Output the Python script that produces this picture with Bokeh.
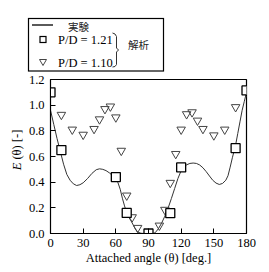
from bokeh.plotting import figure
from bokeh.models import Range1d, FixedTicker, Div
from bokeh.layouts import column, row
from bokeh.embed import file_html
from bokeh.resources import INLINE

# ---- data ----
curve_x = [0, 3, 6, 9, 12, 15, 18, 21, 24, 27, 30, 34, 38, 42, 45, 48, 51, 54, 57, 60,
           62, 64, 66, 68, 70, 72, 74, 76, 78, 80, 83, 86, 90, 94, 96, 99, 102, 105, 108,
           111, 114, 117, 120, 122, 125, 128, 131, 134, 137, 140, 143, 146, 149, 152, 155,
           158, 161, 163, 165, 167, 170, 172, 174, 176, 178, 180]
curve_y = [0.96, 0.85, 0.74, 0.64, 0.54, 0.46, 0.415, 0.387, 0.374, 0.38, 0.395, 0.428, 0.468,
           0.497, 0.504, 0.500, 0.490, 0.473, 0.452, 0.425, 0.395, 0.345, 0.275, 0.215, 0.16,
           0.125, 0.098, 0.066, 0.035, 0.012, 0.002, 0.0, 0.0, 0.0, 0.005, 0.036, 0.080,
           0.135, 0.198, 0.272, 0.350, 0.428, 0.49, 0.513, 0.535, 0.546, 0.549, 0.546, 0.534,
           0.512, 0.482, 0.448, 0.415, 0.393, 0.382, 0.39, 0.415, 0.45, 0.517, 0.59, 0.69,
           0.78, 0.87, 0.96, 1.03, 1.10]

sq_x = [0, 10, 60, 70, 90, 110, 120, 170, 180]
sq_y = [1.10, 0.65, 0.44, 0.16, 0.0, 0.158, 0.515, 0.665, 1.115]

tri_x = [0, 10, 20, 30, 40, 45, 50, 55, 60, 65, 70, 75, 80,
         100, 105, 110, 115, 120, 125, 130, 135, 140, 150, 160, 170, 180]
tri_y = [1.10, 0.925, 0.81, 0.77, 0.815, 0.89, 0.97, 0.99, 0.905, 0.645, 0.296, 0.127, 0.044,
         0.062, 0.185, 0.395, 0.62, 0.81, 0.93, 0.945, 0.88, 0.815, 0.765, 0.81, 0.985, 1.10]

x_ticks = [0, 30, 60, 90, 120, 150, 180]
y_ticks = [0.0, 0.2, 0.4, 0.6, 0.8, 1.0, 1.2]

legend_line = "実験"
legend_sq = "P/D = 1.21"
legend_tri = "P/D = 1.10"
legend_group = "解析"
x_label = "Attached angle (θ) [deg.]"
y_label_var = "E"
y_label_rest = " (θ) [-]"

SERIF = "Liberation Serif"
CJK = "Noto Sans CJK JP"

W, H = 269, 272
LEG_H = 72          # height of the legend strip above the chart
YLAB_W = 25         # width of the y-label strip left of the chart
FL, FR, FT, FB = 49, 246, 79, 233   # frame edges in the full picture

SERIF_CSS = f"font-family:'{SERIF}',serif;font-size:12.5px;font-style:normal;"
CJK_CSS = f"font-family:'{CJK}',sans-serif;font-size:10.5px;font-style:normal;"

# ---- legend strip ----
legend_svg = f"""<svg xmlns="http://www.w3.org/2000/svg" width="{W}" height="{LEG_H}" viewBox="0 0 {W} {LEG_H}" style="display:block;margin:0;padding:0">
<rect x="28.5" y="18.5" width="135" height="52.5" fill="none" stroke="black" stroke-width="1.2"/>
<line x1="32" y1="25" x2="53" y2="25" stroke="black" stroke-width="1.3"/>
<rect x="40" y="36.5" width="6" height="6" fill="white" stroke="black" stroke-width="1.2"/>
<polygon points="39.5,59.5 46.5,59.5 43,65.5" fill="white" stroke="#444444" stroke-width="1"/>
<polyline points="112.5,33 115,34 116.5,36.5 116.5,48 118.5,50 116.5,52 116.5,64.5 115,66.5 112.5,67" fill="none" stroke="#333333" stroke-width="1"/>
<text x="68" y="26" dominant-baseline="central" style="{CJK_CSS}" fill="#222222">{legend_line}</text>
<text x="58" y="40" dominant-baseline="central" style="{SERIF_CSS}" fill="black">{legend_sq}</text>
<text x="58" y="63" dominant-baseline="central" style="{SERIF_CSS}" fill="black">{legend_tri}</text>
<text x="128" y="44" dominant-baseline="central" style="{CJK_CSS}" fill="#222222">{legend_group}</text>
</svg>"""
legend_div = Div(text=legend_svg, width=W, height=LEG_H, margin=0)

# ---- y-axis label strip ----
chart_h = H - LEG_H
ylab_cy = 150 - LEG_H
ylab_svg = f"""<svg xmlns="http://www.w3.org/2000/svg" width="{YLAB_W}" height="{chart_h}" viewBox="0 0 {YLAB_W} {chart_h}" style="display:block;margin:0;padding:0">
<text transform="translate(16.5,{ylab_cy}) rotate(-90)" text-anchor="middle" dominant-baseline="central" style="{SERIF_CSS}" fill="black"><tspan style="font-style:italic">{y_label_var}</tspan>{y_label_rest}</text>
</svg>"""
ylab_div = Div(text=ylab_svg, width=YLAB_W, height=chart_h, margin=0)

# ---- main chart ----
p = figure(width=W - YLAB_W, height=chart_h, x_range=Range1d(0, 180), y_range=Range1d(0, 1.2),
           output_backend="svg", toolbar_location=None,
           min_border_left=FL - YLAB_W, min_border_right=W - FR,
           min_border_top=FT - LEG_H, min_border_bottom=H - FB)
p.grid.visible = False
p.outline_line_color = "black"
p.outline_line_width = 1.2

p.xaxis.ticker = FixedTicker(ticks=x_ticks)
p.yaxis.ticker = FixedTicker(ticks=y_ticks)
p.yaxis.major_label_overrides = {t: f"{t:.1f}" for t in y_ticks}
for ax in (p.xaxis[0], p.yaxis[0]):
    ax.major_tick_in = 5
    ax.major_tick_out = 0
    ax.minor_tick_line_color = None
    ax.axis_line_color = "black"
    ax.major_tick_line_color = "black"
    ax.major_label_text_font = SERIF
    ax.major_label_text_font_size = "12.5px"
    ax.major_label_text_color = "black"
p.xaxis.major_label_standoff = 5
p.yaxis.major_label_standoff = 6
p.xaxis.axis_label = x_label
p.xaxis.axis_label_text_font = SERIF
p.xaxis.axis_label_text_font_size = "12.5px"
p.xaxis.axis_label_text_font_style = "normal"
p.xaxis.axis_label_text_color = "black"
p.xaxis.axis_label_standoff = 1

p.line(curve_x, curve_y, line_color="#333333", line_width=1.0)
p.scatter(tri_x, tri_y, marker="inverted_triangle", size=8.5, fill_color=None,
          line_color="#444444", line_width=1.0)
p.scatter(sq_x, sq_y, marker="square", size=9, fill_color="white", line_color="black",
          line_width=1.3)

layout = column(legend_div, row(ylab_div, p, spacing=0), spacing=0)
open("out.html", "w").write(file_html(layout, INLINE))
